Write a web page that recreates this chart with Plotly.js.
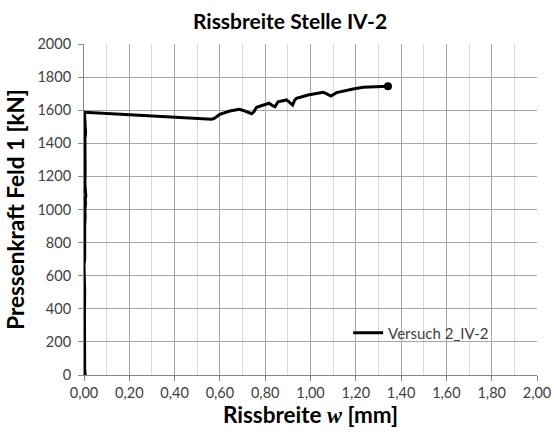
<!DOCTYPE html>
<html>
<head>
<meta charset="utf-8">
<script src="https://cdn.plot.ly/plotly-3.0.1.min.js"></script>
<style>html,body{margin:0;padding:0;background:#fff;}#chart{width:554px;height:432px;}</style>
</head>
<body>
<div id="chart"></div>
<script>
// Rissbreite w [mm]
const rissbreite = [
  0.000, 0.005, 0.003, 0.002, 0.003, 0.002, 0.003, 0.002, 0.000, 0.003,
  0.002, 0.003, 0.005, 0.004, 0.007, 0.005, 0.008, 0.006, 0.004, 0.005,
  0.004, 0.006, 0.004, 0.007, 0.004, 0.003, 0.002,
  0.563, 0.575, 0.600, 0.644, 0.685, 0.700, 0.740, 0.750, 0.762, 0.791,
  0.817, 0.830, 0.843, 0.857, 0.894, 0.905, 0.921, 0.930, 0.938, 0.989,
  1.030, 1.056, 1.070, 1.090, 1.115, 1.150, 1.188, 1.232, 1.306, 1.342
];
// Pressenkraft Feld 1 [kN]
const pressenkraft = [
  0, 5, 40, 120, 250, 380, 500, 600, 665, 700,
  800, 900, 960, 1000, 1040, 1060, 1080, 1100, 1150, 1250,
  1330, 1400, 1430, 1460, 1520, 1560, 1588,
  1545, 1550, 1575, 1595, 1605, 1600, 1579, 1590, 1618, 1633,
  1642, 1630, 1621, 1651, 1662, 1650, 1631, 1660, 1672, 1692,
  1702, 1708, 1700, 1686, 1706, 1718, 1728, 1738, 1742, 1745
];
const seriesName = 'Versuch 2_IV-2';
const chartTitle = 'Rissbreite Stelle IV-2';
const xTitle = 'Rissbreite <span style="font-family:\'Liberation Serif\';font-style:italic;font-weight:bold">w</span> [mm]';
const yTitle = 'Pressenkraft Feld 1 [kN]';

const FONT = 'Lato, "Open Sans", sans-serif';
const last = rissbreite.length - 1;

const traces = [
  {
    x: rissbreite, y: pressenkraft, name: seriesName,
    type: 'scatter', mode: 'lines',
    line: {color: '#000000', width: 3}
  },
  {
    x: [rissbreite[last]], y: [pressenkraft[last]],
    type: 'scatter', mode: 'markers', showlegend: false, hoverinfo: 'skip',
    marker: {color: '#000000', size: 8}
  }
];

const layout = {
  width: 554, height: 432,
  margin: {l: 84, r: 17, t: 44, b: 57},
  paper_bgcolor: '#ffffff', plot_bgcolor: '#ffffff',
  separators: ', ',
  font: {family: FONT, size: 15, color: '#404040'},
  title: {
    text: chartTitle, font: {family: FONT, size: 21, color: '#000000', weight: 'bold'},
    x: 0.5235, xref: 'container', xanchor: 'center',
    y: 0.95, yref: 'container', yanchor: 'middle'
  },
  xaxis: {
    range: [0, 2], dtick: 0.2, tick0: 0, tickformat: '.2f',
    showline: true, linecolor: '#868686', linewidth: 1,
    showgrid: true, gridcolor: '#a6a6a6', gridwidth: 1,
    zeroline: false,
    ticks: 'outside', ticklen: 5, tickcolor: '#868686',
    minor: {dtick: 0.1, showgrid: true, gridcolor: '#d9d9d9', ticks: ''},
    tickfont: {family: FONT, size: 14.5, color: '#404040'},
    title: {text: xTitle, font: {family: FONT, size: 22.5, color: '#000000', weight: 'bold'}, standoff: 2}
  },
  yaxis: {
    range: [0, 2000], dtick: 200, tick0: 0,
    showline: true, linecolor: '#868686', linewidth: 1,
    showgrid: true, gridcolor: '#a6a6a6', gridwidth: 1,
    zeroline: false,
    ticks: 'outside', ticklen: 5, tickcolor: '#868686',
    ticklabelstandoff: 4,
    tickfont: {family: FONT, size: 14.5, color: '#404040'},
    title: {text: yTitle, font: {family: FONT, size: 22.5, color: '#000000', weight: 'bold'}, standoff: 6}
  },
  shapes: [{
    type: 'rect', xref: 'paper', yref: 'paper', layer: 'between',
    x0: 0.5695, x1: 0.914, y0: 0.030, y1: 0.2175,
    fillcolor: '#ffffff', line: {width: 0}
  }],
  legend: {
    x: 0.583, y: 0.127, xanchor: 'left', yanchor: 'middle',
    bgcolor: 'rgba(0,0,0,0)', borderwidth: 0,
    font: {family: FONT, size: 15, color: '#404040'}
  },
  showlegend: true
};

Plotly.newPlot('chart', traces, layout, {displayModeBar: false, staticPlot: true});
</script>
</body>
</html>
